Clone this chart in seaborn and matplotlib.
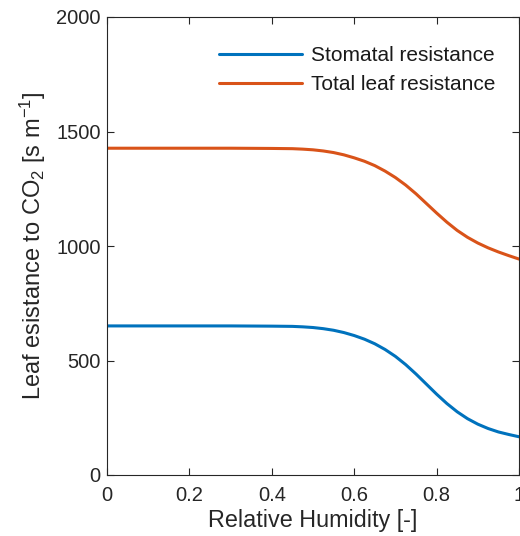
import pandas as pd
import seaborn as sns
import matplotlib.pyplot as plt

# Data
rh = [0.0, 0.1, 0.2, 0.3, 0.4, 0.45, 0.475, 0.5, 0.525, 0.55, 0.575, 0.6, 0.625,
      0.65, 0.675, 0.7, 0.725, 0.75, 0.775, 0.8, 0.825, 0.85, 0.875, 0.9, 0.925,
      0.95, 0.975, 1.0]
stomatal = [651, 651, 651, 651, 650, 649, 647, 644, 639, 632, 622, 609, 593,
            573, 548, 518, 482, 441, 397, 353, 312, 276, 246, 222, 203,
            188, 177, 167]
total = [1427, 1427, 1427, 1427, 1426, 1425, 1423, 1420, 1415, 1408, 1398, 1385, 1370,
         1351, 1327, 1299, 1266, 1228, 1186, 1144, 1104, 1068, 1038, 1013, 992,
         974, 958, 943]
labels = ['Stomatal resistance', 'Total leaf resistance']
colors = ['#0072BD', '#D95319']

df = pd.DataFrame({
    'rh': rh * 2,
    'res': stomatal + total,
    'series': [labels[0]] * len(rh) + [labels[1]] * len(rh),
})

sns.set_style('ticks')
plt.rcParams['font.family'] = ['Liberation Sans', 'DejaVu Sans']
plt.rcParams['mathtext.fontset'] = 'custom'
plt.rcParams['mathtext.rm'] = 'Liberation Sans'
plt.rcParams['mathtext.it'] = 'Liberation Sans'

fig = plt.figure(figsize=(5.2, 5.36), dpi=100)
ax = fig.add_axes([107 / 520, 1 - 475 / 536, 412 / 520, 458 / 536])

sns.lineplot(data=df, x='rh', y='res', hue='series', palette=colors,
             linewidth=2.2, ax=ax)

ax.set_xlim(0, 1)
ax.set_ylim(0, 2000)
ax.set_xticks([0, 0.2, 0.4, 0.6, 0.8, 1])
ax.set_xticklabels(['0', '0.2', '0.4', '0.6', '0.8', '1'])
ax.set_yticks([0, 500, 1000, 1500, 2000])
ax.tick_params(direction='in', length=5, width=0.8, top=True, right=True,
               labelsize=14.5, colors='#262626')
ax.tick_params(axis='x', pad=8)
ax.tick_params(axis='y', pad=4.5)
for s in ax.spines.values():
    s.set_color('#262626')
    s.set_linewidth(0.8)

ax.set_xlabel('Relative Humidity [-]', fontsize=16.8, color='#262626', labelpad=3)
ax.set_ylabel('Leaf esistance to CO$_2$ [s m$^{-1}$]', fontsize=17, color='#262626',
              labelpad=6)

leg = ax.legend(loc='upper right', bbox_to_anchor=(0.962, 0.955), borderaxespad=0,
                frameon=False, fontsize=15, handlelength=4.0, handletextpad=0.4)
for t in leg.get_texts():
    t.set_color('#1a1a1a')

fig.savefig('out.png', dpi=100)
